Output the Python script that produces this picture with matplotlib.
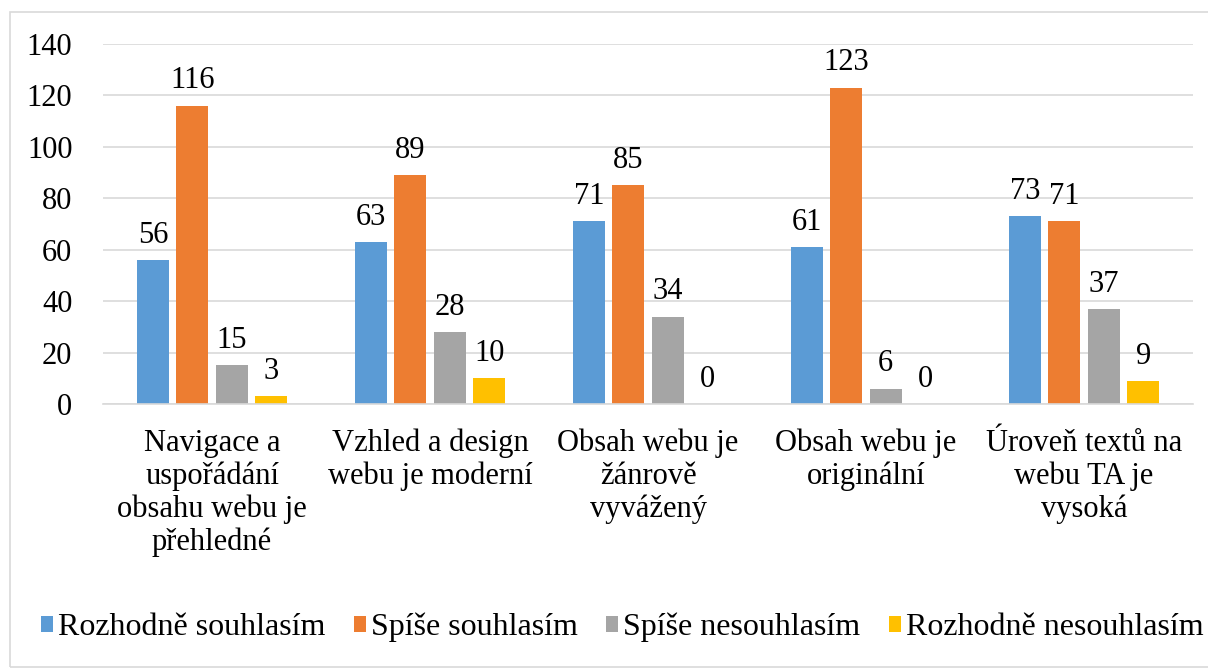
import matplotlib.pyplot as plt
import numpy as np
from matplotlib.patches import Rectangle
from matplotlib.font_manager import FontProperties

SERIF = ['Liberation Serif']

categories = ['Navigace a\nuspořádání\nobsahu webu je\npřehledné',
              'Vzhled a design\nwebu je moderní',
              'Obsah webu je\nžánrově\nvyvážený',
              'Obsah webu je\noriginální',
              'Úroveň textů na\nwebu TA je\nvysoká']
series = ['Rozhodně souhlasím', 'Spíše souhlasím', 'Spíše nesouhlasím', 'Rozhodně nesouhlasím']
rozhodne_souhlasim = [56, 63, 71, 61, 73]
spise_souhlasim = [116, 89, 85, 123, 71]
spise_nesouhlasim = [15, 28, 34, 6, 37]
rozhodne_nesouhlasim = [3, 10, 0, 0, 9]
colors = ['#5B9BD5', '#ED7D31', '#A5A5A5', '#FFC000']

values = [rozhodne_souhlasim, spise_souhlasim, spise_nesouhlasim, rozhodne_nesouhlasim]

fig = plt.figure(figsize=(12.08, 6.71), dpi=100)
ax = fig.add_axes([0.0853, 0.398, 0.9023, 0.5364])

# outer chart border
fig.patches.append(Rectangle((0.008, 0.006), 0.995, 0.976, transform=fig.transFigure,
                             fill=False, edgecolor='#D9D9D9', linewidth=1.2))

x = np.arange(len(categories))
w = 0.147
step = 0.181
for i, (vals, name, col) in enumerate(zip(values, series, colors)):
    pos = x + (i - 1.5) * step
    ax.bar(pos, vals, width=w, color=col, label=name)
    for p, v in zip(pos, vals):
        ax.text(p, v + 4, str(v), ha='center', va='bottom', fontsize=22, family=SERIF)

ax.set_xlim(-0.5, len(categories) - 0.5)
ax.set_ylim(0, 140)
yt = list(range(0, 141, 20))
ax.set_yticks(yt)
ax.set_yticklabels([str(t) for t in yt], family=SERIF, fontsize=22)
ax.tick_params(axis='y', length=0, pad=22)
ax.tick_params(axis='x', length=0, pad=18)
ax.set_xticks(x)
ax.set_xticklabels(categories, linespacing=1.15, family=SERIF, fontsize=22)
ax.grid(axis='y', color='#D9D9D9', linewidth=1.2)
ax.set_axisbelow(True)
for s in ['top', 'right', 'left']:
    ax.spines[s].set_visible(False)
ax.spines['bottom'].set_color('#D9D9D9')
ax.spines['bottom'].set_linewidth(1.2)

fig.legend(loc='center', bbox_to_anchor=(0.515, 0.065), ncol=4, frameon=False,
           prop=FontProperties(family=SERIF, size=23),
           handlelength=0.38, handleheight=0.38, handletextpad=0.15,
           columnspacing=0.9)

fig.savefig('out.png', dpi=100)
